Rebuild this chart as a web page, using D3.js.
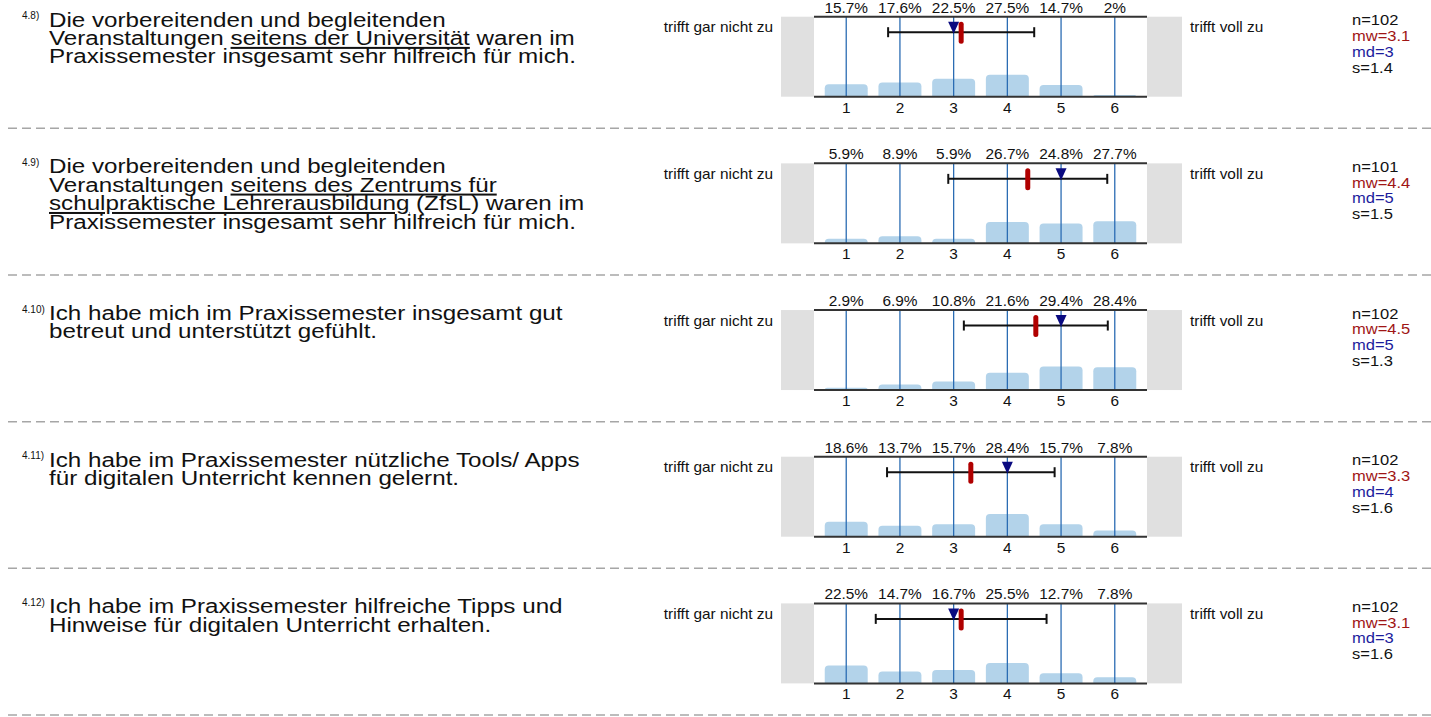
<!DOCTYPE html>
<html>
<head>
<meta charset="utf-8">
<script src="https://cdn.jsdelivr.net/npm/d3@7"></script>
<style>
  body { margin: 0; background: #fff; }
  svg text { font-family: "Liberation Sans", Arial, sans-serif; }
</style>
</head>
<body>
<div id="viz"></div>
<script>
// question numbers and texts (underscores mark underlined parts)
const rowIds = ["4.8)", "4.9)", "4.10)", "4.11)", "4.12)"]
const questions = [
  ["Die vorbereitenden und begleitenden",
   "Veranstaltungen _seitens der Universität_ waren im",
   "Praxissemester insgesamt sehr hilfreich für mich."],
  ["Die vorbereitenden und begleitenden",
   "Veranstaltungen _seitens des Zentrums für_",
   "_schulpraktische Lehrerausbildung_ (ZfsL) waren im",
   "Praxissemester insgesamt sehr hilfreich für mich."],
  ["Ich habe mich im Praxissemester insgesamt gut",
   "betreut und unterstützt gefühlt."],
  ["Ich habe im Praxissemester nützliche Tools/ Apps",
   "für digitalen Unterricht kennen gelernt."],
  ["Ich habe im Praxissemester hilfreiche Tipps und",
   "Hinweise für digitalen Unterricht erhalten."]
]

const categories = [1, 2, 3, 4, 5, 6]
const percents = [
  [15.7, 17.6, 22.5, 27.5, 14.7, 2],
  [5.9, 8.9, 5.9, 26.7, 24.8, 27.7],
  [2.9, 6.9, 10.8, 21.6, 29.4, 28.4],
  [18.6, 13.7, 15.7, 28.4, 15.7, 7.8],
  [22.5, 14.7, 16.7, 25.5, 12.7, 7.8]
]
const counts = [102, 101, 102, 102, 102]
const means = [3.14, 4.38, 4.53, 3.32, 3.14]
const medians = [3, 5, 5, 4, 3]
const sds = [1.36, 1.48, 1.34, 1.56, 1.59]

const leftLabel = "trifft gar nicht zu"
const rightLabel = "trifft voll zu"

const width = 1431
const height = 717
const rowTop = 16.7
const rowStep = 146.67
const plotH = 80

const svg = d3.select("#viz").append("svg")
  .attr("width", width)
  .attr("height", height)

const x = d3.scaleBand()
  .domain(categories)
  .range([814, 1147])
  .padding(0.2)

const xv = d3.scaleLinear()
  .domain([1, 6])
  .range([x(1) + x.bandwidth() / 2, x(6) + x.bandwidth() / 2])

const fmt = d3.format(".1f")

// helper: text with horizontal stretch (the source is a bit wider than tall)
function stretchedText(g, tx, ty, str, size, anchor, color, sx) {
  return g.append("g")
    .attr("transform", `translate(${tx},${ty}) scale(${sx || 1.1},1)`)
    .append("text")
      .attr("font-size", size)
      .attr("text-anchor", anchor || "start")
      .attr("fill", color || "#111")
      .text(str)
}

// rounded-top bar path
function barPath(x0, y0, w, h, r) {
  r = Math.min(r, h, w / 2)
  return `M${x0},${y0 + h}V${y0 + r}Q${x0},${y0} ${x0 + r},${y0}` +
    `H${x0 + w - r}Q${x0 + w},${y0} ${x0 + w},${y0 + r}V${y0 + h}Z`
}

rowIds.forEach((id, i) => {
  const top = rowTop + i * rowStep
  const bottom = top + plotH
  const g = svg.append("g")

  const y = d3.scaleLinear().domain([0, 100]).range([bottom, top])

  // question number and text (one text element, lines as tspans)
  stretchedText(g, 22, top + 2.5, id, 10, "start", "#111", 1)
  const qt = g.append("g")
    .attr("transform", `translate(49,${top + 10}) scale(1.21,1)`)
    .append("text")
      .attr("font-size", 20)
      .attr("fill", "#111")
  questions[i].forEach((line, j) => {
    const ln = qt.append("tspan")
      .attr("x", 0)
      .attr("y", j * 18.4)
    line.split("_").forEach((part, k) => {
      ln.append("tspan")
        .attr("text-decoration", k % 2 ? "underline" : null)
        .text(part)
    })
  })

  // grey end boxes
  g.append("rect").attr("x", 781).attr("y", top).attr("width", 814 - 781).attr("height", plotH).attr("fill", "#e0e0e0")
  g.append("rect").attr("x", 1147).attr("y", top).attr("width", 1182 - 1147).attr("height", plotH).attr("fill", "#e0e0e0")

  // bars
  g.selectAll(".bar")
    .data(percents[i])
    .enter()
    .append("path")
      .attr("d", (d, k) => barPath(x(categories[k]), y(d), x.bandwidth(), bottom - y(d), 4))
      .attr("fill", "#b3d3ea")

  // vertical category lines
  g.selectAll(".vline")
    .data(categories)
    .enter()
    .append("line")
      .attr("x1", d => x(d) + x.bandwidth() / 2)
      .attr("x2", d => x(d) + x.bandwidth() / 2)
      .attr("y1", top)
      .attr("y2", bottom)
      .attr("stroke", "#2b6cb3")
      .attr("stroke-width", 1.3)

  // top and bottom rules
  g.append("line").attr("x1", 814).attr("x2", 1147).attr("y1", top).attr("y2", top).attr("stroke", "#333").attr("stroke-width", 2)
  g.append("line").attr("x1", 814).attr("x2", 1147).attr("y1", bottom).attr("y2", bottom).attr("stroke", "#333").attr("stroke-width", 2)

  // percent labels and tick labels
  percents[i].forEach((p, k) => {
    const cx = x(categories[k]) + x.bandwidth() / 2
    stretchedText(g, cx, top - 4, p + "%", 14, "middle")
    stretchedText(g, cx, bottom + 16, categories[k], 14, "middle")
  })

  // side labels
  stretchedText(g, 773, top + 15.5, leftLabel, 14, "end")
  stretchedText(g, 1190, top + 15.5, rightLabel, 14, "start")

  // standard deviation bar
  const ey = top + 15.5
  const e0 = xv(means[i] - sds[i])
  const e1 = xv(means[i] + sds[i])
  g.append("line").attr("x1", e0).attr("x2", e1).attr("y1", ey).attr("y2", ey).attr("stroke", "#111").attr("stroke-width", 2)
  g.append("line").attr("x1", e0).attr("x2", e0).attr("y1", ey - 5).attr("y2", ey + 5).attr("stroke", "#111").attr("stroke-width", 2)
  g.append("line").attr("x1", e1).attr("x2", e1).attr("y1", ey - 5).attr("y2", ey + 5).attr("stroke", "#111").attr("stroke-width", 2)

  // median triangle
  const mx = xv(medians[i])
  g.append("path")
    .attr("d", `M${mx - 5.5},${top + 5}H${mx + 5.5}L${mx},${ey + 1.5}Z`)
    .attr("fill", "#0a0a80")

  // mean marker
  g.append("rect")
    .attr("x", xv(means[i]) - 2.5)
    .attr("y", top + 5)
    .attr("width", 5)
    .attr("height", 22)
    .attr("rx", 2.5)
    .attr("fill", "#b00000")

  // stats
  const stats = [
    ["n=" + counts[i], "#111"],
    ["mw=" + fmt(means[i]), "#a01515"],
    ["md=" + medians[i], "#1c1c9c"],
    ["s=" + fmt(sds[i]), "#111"]
  ]
  stats.forEach((s, k) => {
    stretchedText(g, 1352, top + 8.5 + k * 15.8, s[0], 14.5, "start", s[1], 1.14)
  })

  // dashed separator
  g.append("line")
    .attr("x1", 8).attr("x2", width)
    .attr("y1", top + 111.6).attr("y2", top + 111.6)
    .attr("stroke", "#a6a6a6")
    .attr("stroke-width", 1.5)
    .attr("stroke-dasharray", "9,5")
})
</script>
</body>
</html>
